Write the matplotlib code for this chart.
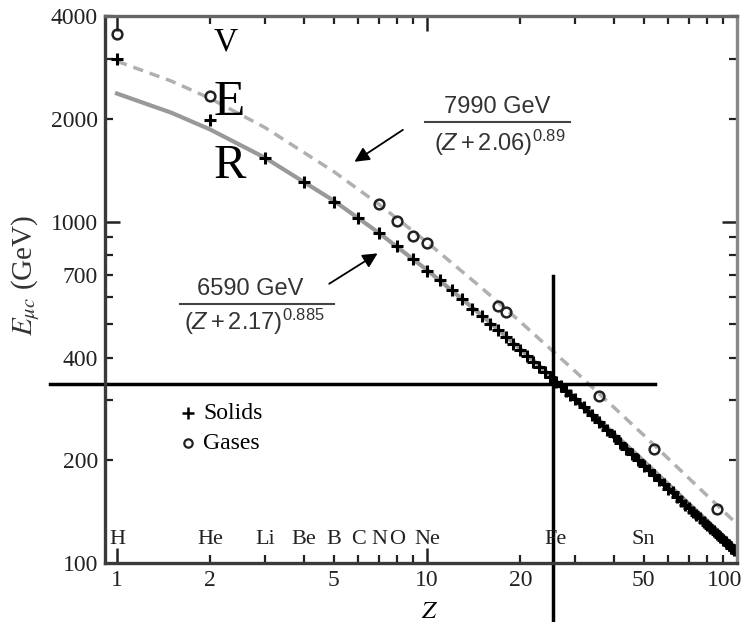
import matplotlib.pyplot as plt
import matplotlib.transforms as mtransforms
from matplotlib.lines import Line2D

plt.rcParams['font.family'] = 'Liberation Serif'
plt.rcParams['mathtext.fontset'] = 'custom'
plt.rcParams['mathtext.rm'] = 'Liberation Sans'
plt.rcParams['mathtext.it'] = 'Liberation Sans:italic'

# gases (open circles)
gas_z = [1, 2, 7, 8, 9, 10, 17, 18, 36, 54, 86]
gas_e = [3560, 2330, 1130, 1005, 910, 868, 565, 545, 309, 216, 144]

# solids (plus signs)
solid_z = [1, 2, 3, 4, 5, 6, 7, 8, 9, 10, 11, 12, 13, 14, 15, 16, 17, 18, 19, 20,
           21, 22, 23, 24, 25, 26, 27, 28, 29, 30, 32, 34, 36, 38, 40, 42, 44, 46,
           48, 50, 52, 54, 56, 58, 60, 62, 64, 66, 68, 70, 72, 74, 76, 78, 80, 82,
           84, 86, 88, 90, 92, 94, 96, 98, 100]
solid_e = [3000, 1990, 1540, 1310, 1145, 1027, 927, 846, 779, 718, 673, 631, 594, 556,
           528, 502, 480, 458, 438, 420, 404, 389, 375, 363, 351, 340, 330, 320, 311,
           302, 286, 271, 258, 246, 235, 225, 216, 208, 200, 193, 187, 181, 175, 170,
           165, 161, 156, 152, 148, 145, 141, 138, 135, 132, 129, 127, 124, 122, 119,
           117, 115, 113, 111, 109, 107]

# fitted curves
fit_z = [1, 1.5, 2, 3, 5, 7, 10, 15, 20, 30, 50, 70, 100]
gas_fit_e = [2953, 2581, 2296, 1888, 1403, 1124, 871, 640, 509, 365, 237, 177, 130]
solid_fit_e = [2374, 2085, 1862, 1540, 1153, 927, 722, 532, 424, 305, 199, 149, 110]

elem_names = ['H', 'He', 'Li', 'Be', 'B', 'C', 'N', 'O', 'Ne', 'Fe', 'Sn']
elem_z = [1, 2, 3, 4, 5, 6, 7, 8, 10, 26, 50]

x_major = [1, 10, 100]
x_minor = [2, 3, 4, 5, 6, 7, 8, 9, 20, 30, 40, 50, 60, 70, 80, 90]
x_minor_labels = ['2', '', '', '5', '', '', '', '', '20', '', '', '50', '', '', '', '']
y_major = [100, 1000]
y_minor = [200, 300, 400, 500, 600, 700, 800, 900, 2000, 3000, 4000]
y_minor_labels = ['200', '', '400', '', '', '700', '', '', '2000', '', '4000']

fe_z, fe_e = 25.5, 335

fig = plt.figure(figsize=(7.47, 6.22), dpi=100)
ax = fig.add_axes([0.1406, 0.0949, 0.846, 0.879])

ax.plot(fit_z, gas_fit_e, color='#b0b0b0', lw=2.5, ls=(0, (3, 2)))
ax.plot(fit_z, solid_fit_e, color='#999999', lw=3)
# dense part of the solids merges into a thick band
dense = [i for i, z in enumerate(solid_z) if z >= 26]
ax.plot([solid_z[i] for i in dense], [solid_e[i] for i in dense],
        color='black', lw=3.5)
ax.plot(solid_z, solid_e, '+', color='black', ms=9, mew=2.2)
ax.plot(gas_z, gas_e, 'o', mfc='none', mec='#222222', ms=7, mew=1.8)

ax.set_xscale('log')
ax.set_yscale('log')
ax.set_xlim(0.915, 100)
ax.set_ylim(100, 4000)

ax.set_xticks(x_major)
ax.set_xticklabels([str(v) for v in x_major])
ax.set_xticks(x_minor, minor=True)
ax.set_xticklabels(x_minor_labels, minor=True)
ax.set_yticks(y_major)
ax.set_yticklabels([str(v) for v in y_major])
ax.set_yticks(y_minor, minor=True)
ax.set_yticklabels(y_minor_labels, minor=True)
ax.tick_params(which='both', direction='in', top=True, right=True,
               labelsize=17, pad=5, colors='#222222')
ax.tick_params(which='major', length=11, width=1.8)
ax.tick_params(which='minor', length=6, width=1.6)

# the last x label sits against the right edge of the page
last = ax.get_xticklabels()[-1]
last.set_transform(last.get_transform() +
                   mtransforms.ScaledTranslation(-9 / 72, 0, fig.dpi_scale_trans))

ax.spines['left'].set_color('#3a3a3a')
ax.spines['bottom'].set_color('#3a3a3a')
ax.spines['top'].set_color('#666666')
ax.spines['right'].set_color('#888888')
for s in ax.spines.values():
    s.set_linewidth(2.4)

ax.set_ylabel(r'$E_{\mu c}$ (GeV)', fontsize=21, math_fontfamily='stix',
              color='#333333')
ax.yaxis.set_label_coords(-0.10, 0.527)
ax.set_xlabel(r'$Z$', fontsize=18, math_fontfamily='stix')
ax.xaxis.set_label_coords(0.514, -0.07)

# element names along the bottom
for name, z in zip(elem_names, elem_z):
    ax.text(z, 117, name, ha='center', va='center', fontsize=16, color='#222222')

# legend
ax.plot([0.131], [0.274], '+', color='black', ms=8, mew=1.8, transform=ax.transAxes)
ax.plot([0.131], [0.219], 'o', mfc='none', mec='#222222', ms=6, mew=1.6,
        transform=ax.transAxes)
ax.text(0.155, 0.274, 'Solids', transform=ax.transAxes, fontsize=17, va='center')
ax.text(0.155, 0.219, 'Gases', transform=ax.transAxes, fontsize=17, va='center')

# fit formulas
ax.text(0.62, 0.834, '7990 GeV', transform=ax.transAxes, ha='center', va='center',
        fontsize=17, family='Liberation Sans', color='#333333')
ax.add_line(Line2D([0.506, 0.736], [0.806, 0.806], transform=ax.transAxes,
                   color='#444444', lw=1.5))
ax.text(0.625, 0.768, r'$(Z + 2.06)^{0.89}$', transform=ax.transAxes, ha='center',
        va='center', fontsize=17, math_fontfamily='custom', color='#333333')
ax.annotate('', xy=(0.391, 0.731), xytext=(0.475, 0.795), xycoords='axes fraction',
            arrowprops=dict(arrowstyle='-|>', color='black', lw=1.3, mutation_scale=22))

ax.text(0.229, 0.501, '6590 GeV', transform=ax.transAxes, ha='center', va='center',
        fontsize=17, family='Liberation Sans', color='#333333')
ax.add_line(Line2D([0.119, 0.362], [0.4735, 0.4735], transform=ax.transAxes,
                   color='#444444', lw=1.5))
ax.text(0.236, 0.441, r'$(Z + 2.17)^{0.885}$', transform=ax.transAxes, ha='center',
        va='center', fontsize=17, math_fontfamily='custom', color='#333333')
ax.annotate('', xy=(0.435, 0.569), xytext=(0.351, 0.508), xycoords='axes fraction',
            arrowprops=dict(arrowstyle='-|>', color='black', lw=1.3, mutation_scale=22))

# crosshair at iron
ax.plot([0.61, 54.5], [fe_e, fe_e], color='black', lw=2.5, clip_on=False)
ax.plot([fe_z, fe_z], [694, 60], color='black', lw=2.5, clip_on=False)

# overlay letters
fig.text(0.3025, 0.9196, 'V', fontsize=24, ha='center', va='baseline')
fig.text(0.3066, 0.815, 'E', fontsize=37, ha='center', va='baseline')
fig.text(0.308, 0.714, 'R', fontsize=35, ha='center', va='baseline')

fig.savefig('out.png', dpi=100)
